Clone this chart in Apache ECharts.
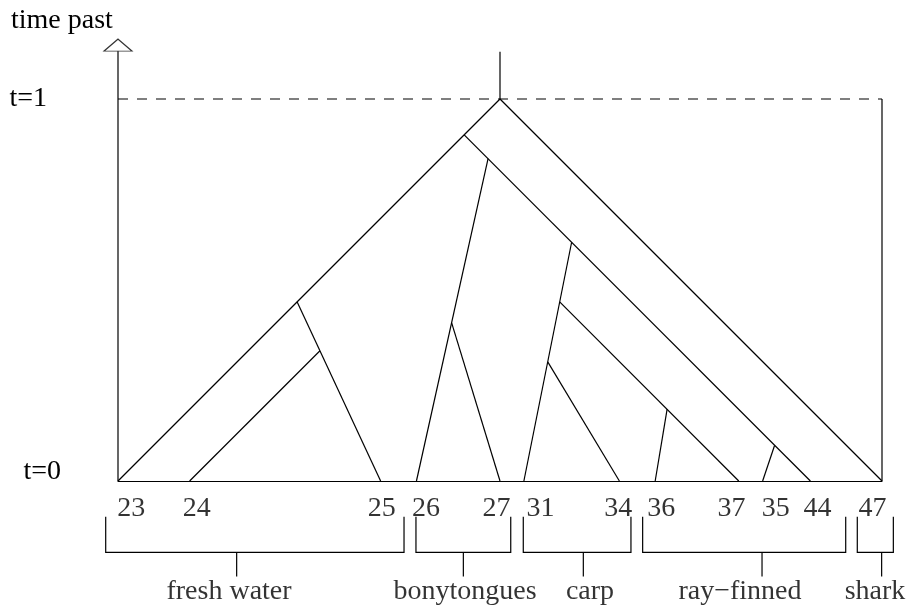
<!DOCTYPE html>
<html>
<head>
<meta charset="utf-8">
<script src="https://cdn.jsdelivr.net/npm/echarts@6/dist/echarts.min.js"></script>
<style>
  html, body { margin: 0; padding: 0; background: #fff; }
  #chart { width: 913px; height: 610px; }
</style>
</head>
<body>
<div id="chart"></div>
<script>
// leaves along the t=0 line, left to right
const leafNames = ['23', '24', '25', '26', '27', '31', '34', '36', '37', '35', '44', '47']
const leafX = [0, 6, 22, 25, 32, 34, 42, 45, 52, 54, 58, 64]
const leafLabelX = [1.1, 6.6, 22.1, 25.8, 31.7, 35.4, 41.9, 45.5, 51.4, 55.1, 58.6, 63.2]

// internal nodes: x and time past
const nodeNames = ['R', 'A', 'B', 'C', 'D', 'E', 'G', 'F', 'H', 'I', 'J']
const nodeX = [32, 29, 31, 27.95, 38, 37, 36, 46, 55, 15, 16.92]
const nodeT = [1, 0.906, 0.844, 0.414, 0.625, 0.469, 0.312, 0.188, 0.093, 0.469, 0.341]

// every branch runs straight from a node down to a leaf
const branches = [
  ['R', '23'], ['R', '47'], ['A', '44'], ['B', '26'], ['C', '27'], ['D', '31'],
  ['G', '34'], ['E', '37'], ['F', '36'], ['H', '35'], ['I', '25'], ['J', '24']
]
const rootTop = 1.124

// groups bracketed under the leaves
const groupNames = ['fresh water', 'bonytongues', 'carp', 'ray\u2212finned', 'shark']
const groupFrom = [-1.03, 24.96, 33.95, 43.95, 61.93]
const groupTo = [23.96, 32.9, 42.97, 60.96, 64.95]
const groupStem = [9.94, 28.93, 38.98, 53.95, 63.97]
const groupLabelX = [9.3, 29.07, 39.54, 52.1, 63.41]

const tTicks = [0, 1]
const xMax = 64

// rows below the axis (in t units)
const leafLabelT = -0.073
const bracketTop = -0.0935
const bracketBar = -0.187
const stemEnd = -0.25
const groupLabelT = -0.29

const font = 'Liberation Serif'
const fontSize = 28
const chart = echarts.init(document.getElementById('chart'))

const nodeAt = name => [nodeX[nodeNames.indexOf(name)], nodeT[nodeNames.indexOf(name)]]
const leafAt = name => [leafX[leafNames.indexOf(name)], 0]

const treeLines = branches.map(b => ({ coords: [nodeAt(b[0]), leafAt(b[1])] }))
treeLines.push({ coords: [nodeAt('R'), [nodeAt('R')[0], rootTop]] })

const bracketLines = []
groupNames.forEach((g, i) => {
  bracketLines.push({ coords: [[groupFrom[i], bracketTop], [groupFrom[i], bracketBar], [groupTo[i], bracketBar], [groupTo[i], bracketTop]] })
  bracketLines.push({ coords: [[groupStem[i], bracketBar], [groupStem[i], stemEnd]] })
})

const lineStyle = { color: '#000', width: 1.2, opacity: 1 }

chart.setOption({
  animation: false,
  title: {
    text: 'time past',
    left: 6,
    top: 2,
    textStyle: { fontFamily: font, fontSize: fontSize, fontWeight: 'normal', color: '#000' }
  },
  grid: { left: 118, right: 31, top: 22.6, bottom: 14.4 },
  xAxis: {
    type: 'value',
    min: 0,
    max: xMax,
    axisLine: { show: true, lineStyle: { color: '#000', width: 1.2 } },
    axisTick: { show: false },
    axisLabel: { show: false },
    splitLine: { show: false }
  },
  yAxis: {
    type: 'value',
    min: -0.3,
    max: 1.2,
    axisLine: { show: false },
    axisTick: { show: false },
    splitLine: { show: false },
    axisLabel: {
      customValues: tTicks,
      margin: 57,
      fontFamily: font,
      fontSize: fontSize,
      color: '#000',
      formatter: v => v === 0 ? '{lo|t=0}' : '{hi|t=1}',
      rich: {
        lo: { fontFamily: font, fontSize: fontSize, color: '#000', padding: [0, 0, 18, 0] },
        hi: { fontFamily: font, fontSize: fontSize, color: '#000', padding: [0, 14, 0, 0] }
      }
    }
  },
  series: [
    {
      name: 'tree',
      type: 'lines',
      coordinateSystem: 'cartesian2d',
      polyline: true,
      clip: false,
      lineStyle: lineStyle,
      data: treeLines
    },
    {
      name: 'frame',
      type: 'lines',
      coordinateSystem: 'cartesian2d',
      polyline: true,
      clip: false,
      lineStyle: lineStyle,
      data: [
        { coords: [[0, 0], [0, 1.126]] },
        { coords: [[xMax, 0], [xMax, 1]] }
      ]
    },
    {
      name: 't=1',
      type: 'lines',
      coordinateSystem: 'cartesian2d',
      polyline: true,
      clip: false,
      lineStyle: { color: '#000', width: 1.2, opacity: 1, type: [10, 9] },
      data: [{ coords: [[0, 1], [xMax, 1]] }]
    },
    {
      name: 'arrow',
      type: 'scatter',
      symbol: 'triangle',
      symbolSize: [28, 12],
      clip: false,
      itemStyle: { color: '#fff', borderColor: '#000', borderWidth: 1.2 },
      data: [[0, 1.141]]
    },
    {
      name: 'leaves',
      type: 'scatter',
      symbolSize: 0,
      clip: false,
      label: {
        show: true,
        position: 'inside',
        fontFamily: font,
        fontSize: fontSize,
        color: '#000',
        formatter: p => leafNames[p.dataIndex]
      },
      data: leafLabelX.map(x => [x, leafLabelT])
    },
    {
      name: 'brackets',
      type: 'lines',
      coordinateSystem: 'cartesian2d',
      polyline: true,
      clip: false,
      lineStyle: lineStyle,
      data: bracketLines
    },
    {
      name: 'groups',
      type: 'scatter',
      symbolSize: 0,
      clip: false,
      label: {
        show: true,
        position: 'inside',
        fontFamily: font,
        fontSize: fontSize,
        color: '#000',
        formatter: p => groupNames[p.dataIndex]
      },
      data: groupLabelX.map(x => [x, groupLabelT])
    }
  ]
})
</script>
</body>
</html>
